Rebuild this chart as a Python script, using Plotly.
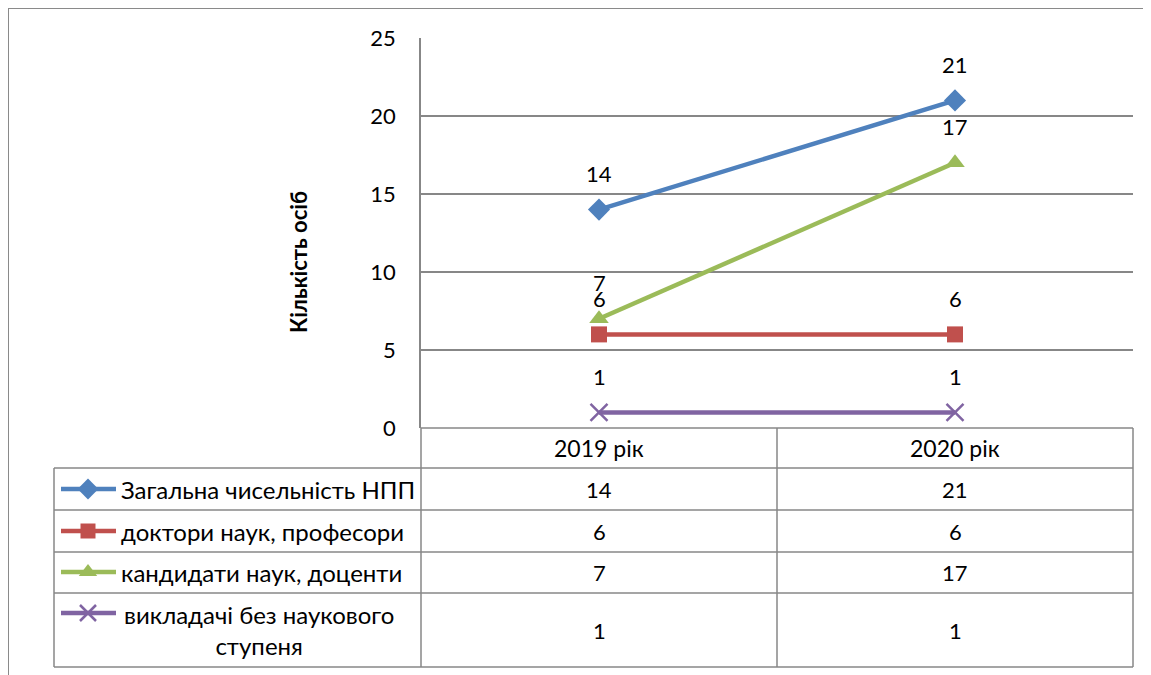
import plotly.graph_objects as go

categories = ["2019 рік", "2020 рік"]
series_names = ["Загальна чисельність НПП", "доктори наук, професори",
                "кандидати наук, доценти", "викладачі без наукового<br>ступеня"]
total_staff = [14, 21]
doctors = [6, 6]
candidates = [7, 17]
no_degree = [1, 1]
y_ticks = [0, 5, 10, 15, 20, 25]
y_title = "Кількість осіб"

series_values = [total_staff, doctors, candidates, no_degree]
colors = ["#4F81BD", "#C0504D", "#9BBB59", "#8064A2"]
symbols = ["diamond", "square", "triangle-up", "x-thin"]
msizes = [17, 16, 17, 17]

W, H = 1151, 675
OFF = 8  # page margin offset
FONT = "Lato"
FS = 22
FS_TXT = 24
GRID = "#878787"

def px(x):
    return (x - OFF) / W

def py(y):
    return 1 - (y - OFF) / H

fig = go.Figure()

for name, vals, c, s, ms in zip(series_names, series_values, colors, symbols, msizes):
    mk = dict(symbol=s, size=ms, color=c)
    if s == "x-thin":
        mk["line"] = dict(width=2.5, color=c)
    fig.add_trace(go.Scatter(x=categories, y=vals, mode="lines+markers",
                             line=dict(color=c, width=4.5), marker=mk,
                             showlegend=False, name=name.replace("<br>", " ")))

annotations = []
for vals in series_values:
    for cat, v in zip(categories, vals):
        annotations.append(dict(x=cat, y=v, xref="x", yref="y", text=str(v),
                                showarrow=False, yshift=36, xanchor="center", yanchor="middle",
                                font=dict(family=FONT, size=FS, color="#000")))

left_x, axis_x, mid_x, right_x = 54, 421, 777, 1133
row_y = [428, 468, 510, 552, 593, 667]
shapes = []
shapes.append(dict(type="line", xref="paper", yref="paper", x0=px(8), x1=1, y0=py(8), y1=py(8),
                   line=dict(color="#8A8A8A", width=2)))
shapes.append(dict(type="line", xref="paper", yref="paper", x0=px(8), x1=px(8), y0=py(8), y1=0,
                   line=dict(color="#8A8A8A", width=2)))
for i, yy in enumerate(row_y):
    x0 = axis_x if i == 0 else left_x
    shapes.append(dict(type="line", xref="paper", yref="paper", x0=px(x0), x1=px(right_x),
                       y0=py(yy), y1=py(yy), line=dict(color=GRID, width=1.5)))
for xx, y0 in [(left_x, row_y[1]), (axis_x, row_y[0]), (mid_x, row_y[0]), (right_x, row_y[0])]:
    shapes.append(dict(type="line", xref="paper", yref="paper", x0=px(xx), x1=px(xx),
                       y0=py(y0), y1=py(row_y[-1]), line=dict(color=GRID, width=1.5)))

col_centers = [599, 955]
for cat, cx in zip(categories, col_centers):
    annotations.append(dict(x=px(cx), y=py((row_y[0] + row_y[1]) / 2), xref="paper", yref="paper",
                            text=cat, showarrow=False, xanchor="center", yanchor="middle",
                            font=dict(family=FONT, size=FS + 1, color="#000")))
for r, vals in enumerate(series_values):
    yc = (row_y[r + 1] + row_y[r + 2]) / 2
    for v, cx in zip(vals, col_centers):
        annotations.append(dict(x=px(cx), y=py(yc), xref="paper", yref="paper", text=str(v),
                                showarrow=False, xanchor="center", yanchor="middle",
                                font=dict(family=FONT, size=FS, color="#000")))
    if r < 3:
        annotations.append(dict(x=px(119), y=py(yc), xref="paper", yref="paper", text=series_names[r],
                                showarrow=False, xanchor="left", yanchor="middle",
                                font=dict(family=FONT, size=FS_TXT, color="#000")))
    else:
        annotations.append(dict(x=px(259), y=py(yc), xref="paper", yref="paper", text=series_names[r],
                                showarrow=False, xanchor="center", yanchor="middle", align="center",
                                font=dict(family=FONT, size=FS_TXT, color="#000")))

key_y = [489, 531, 572, 613]
for c, s, ms, ky in zip(colors, symbols, msizes, key_y):
    shapes.append(dict(type="line", xref="paper", yref="paper", x0=px(61), x1=px(116),
                       y0=py(ky), y1=py(ky), line=dict(color=c, width=4.5)))
    mk = dict(symbol=s, size=ms - 1, color=c)
    if s == "x-thin":
        mk["line"] = dict(width=2.5, color=c)
    fig.add_trace(go.Scatter(x=[88 - OFF], y=[ky - OFF], xaxis="x2", yaxis="y2", mode="markers",
                             marker=mk, showlegend=False, hoverinfo="skip"))

annotations.append(dict(x=px(298), y=py(262), xref="paper", yref="paper", text="<b>" + y_title + "</b>",
                        textangle=-90, showarrow=False, xanchor="center", yanchor="middle",
                        font=dict(family=FONT, size=FS, color="#000")))

fig.update_layout(
    template="none",
    width=W, height=H, margin=dict(l=0, r=0, t=0, b=0, pad=0),
    paper_bgcolor="white", plot_bgcolor="rgba(0,0,0,0)",
    xaxis=dict(domain=[px(axis_x), px(right_x)], range=[-0.5, 1.5], type="category",
               showticklabels=False, showgrid=False, zeroline=False, showline=False,
               automargin=False, fixedrange=True),
    yaxis=dict(domain=[py(428), py(38)], range=[0, 25], tickvals=y_ticks,
               showgrid=True, gridcolor=GRID, gridwidth=1.5, zeroline=False,
               showline=True, linecolor=GRID, linewidth=1.5,
               ticks="", ticklabelstandoff=19, automargin=False,
               tickfont=dict(family=FONT, size=FS, color="#000")),
    xaxis2=dict(domain=[0, 1], range=[0, W], anchor="y2", visible=False, automargin=False,
                fixedrange=True),
    yaxis2=dict(domain=[0, 1], range=[H, 0], anchor="x2", visible=False, automargin=False,
                fixedrange=True),
    shapes=shapes, annotations=annotations, showlegend=False,
)

fig.write_html("out.html")
